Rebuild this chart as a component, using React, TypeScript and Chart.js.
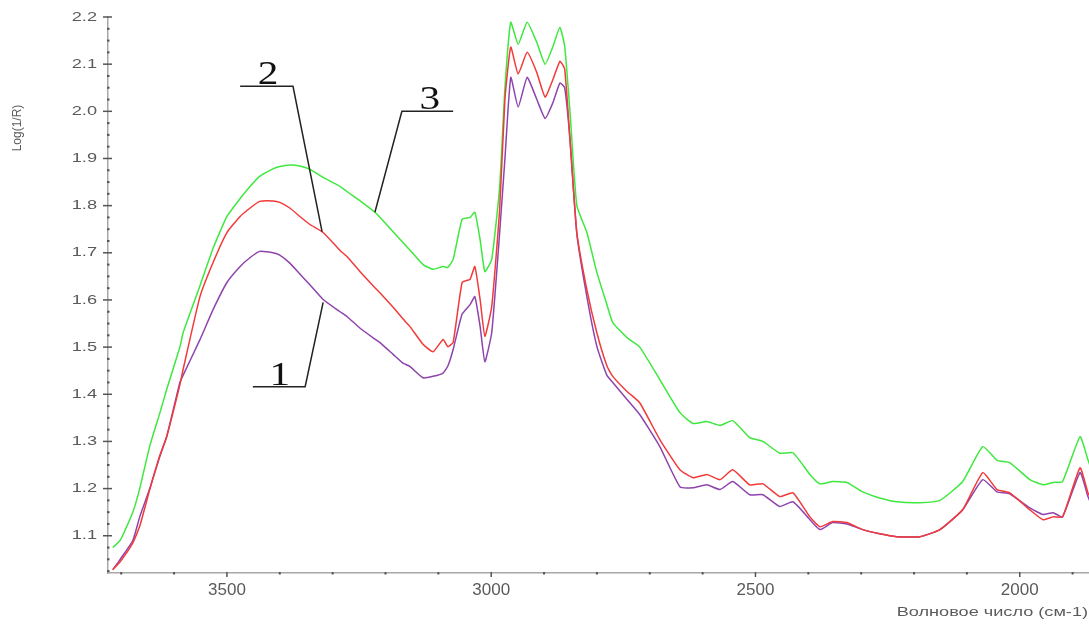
import { useEffect, useRef } from 'react';
import { Chart, registerables } from 'chart.js';

Chart.register(...registerables);

// Wavenumbers (cm-1) sampled along the spectra
const wavenumbers = [
  3716, 3702, 3678, 3665, 3646, 3627, 3614, 3589, 3583, 3551, 3526, 3500, 3475, 3456, 3438, 3413, 3400, 3381,
  3362, 3343, 3318, 3286, 3273, 3248, 3220, 3211, 3186, 3167, 3154, 3129, 3110, 3091, 3082, 3072, 3055, 3040,
  3031, 3021, 3012, 2999, 2984, 2974, 2963, 2949, 2932, 2914, 2898, 2883, 2870, 2861, 2851, 2838, 2819, 2800,
  2781, 2770, 2743, 2719, 2681, 2643, 2618, 2592, 2567, 2543, 2511, 2486, 2454, 2429, 2397, 2378, 2354, 2327,
  2297, 2265, 2233, 2189, 2151, 2108, 2070, 2043, 2019, 1981, 1956, 1937, 1919, 1886, 1871, 1866,
];

// Curve 1 (purple)
const series1 = [
  1.028, 1.05, 1.09, 1.14, 1.2, 1.268, 1.31, 1.425, 1.44, 1.516, 1.58, 1.637, 1.671, 1.69, 1.703, 1.7, 1.695, 1.678,
  1.655, 1.632, 1.601, 1.575, 1.565, 1.54, 1.517, 1.51, 1.485, 1.466, 1.459, 1.435, 1.438, 1.445, 1.46, 1.495, 1.57, 1.59,
  1.607, 1.544, 1.469, 1.531, 1.743, 1.9, 2.072, 2.009, 2.072, 2.026, 1.985, 2.019, 2.06, 2.05, 1.941, 1.74, 1.607, 1.501,
  1.44, 1.425, 1.389, 1.357, 1.289, 1.204, 1.202, 1.208, 1.198, 1.215, 1.187, 1.187, 1.162, 1.172, 1.134, 1.113, 1.128, 1.125,
  1.113, 1.104, 1.098, 1.098, 1.113, 1.155, 1.219, 1.193, 1.189, 1.159, 1.145, 1.149, 1.14, 1.234, 1.183, 1.17,
];

// Curve 2 (red)
const series2 = [
  1.028, 1.045, 1.085, 1.12, 1.198, 1.27, 1.31, 1.42, 1.452, 1.607, 1.68, 1.743, 1.777, 1.795, 1.809, 1.81, 1.807, 1.795,
  1.777, 1.76, 1.743, 1.705, 1.692, 1.66, 1.626, 1.616, 1.585, 1.56, 1.544, 1.506, 1.49, 1.516, 1.501, 1.51, 1.637, 1.644,
  1.671, 1.601, 1.523, 1.586, 1.792, 2.026, 2.136, 2.079, 2.125, 2.083, 2.03, 2.068, 2.106, 2.09, 1.941, 1.743, 1.622, 1.53,
  1.46, 1.438, 1.406, 1.382, 1.304, 1.24, 1.223, 1.23, 1.219, 1.24, 1.208, 1.21, 1.183, 1.191, 1.14, 1.119, 1.13, 1.128,
  1.113, 1.104, 1.098, 1.098, 1.113, 1.155, 1.234, 1.198, 1.191, 1.155, 1.134, 1.14, 1.14, 1.244, 1.191, 1.18,
];

// Curve 3 (green)
const series3 = [
  1.075, 1.09, 1.15, 1.2, 1.29, 1.36, 1.41, 1.5, 1.53, 1.63, 1.71, 1.777, 1.815, 1.841, 1.862, 1.878, 1.883, 1.886,
  1.884, 1.877, 1.86, 1.841, 1.83, 1.81, 1.786, 1.776, 1.745, 1.722, 1.706, 1.675, 1.665, 1.671, 1.669, 1.686, 1.771, 1.775,
  1.786, 1.728, 1.66, 1.686, 1.84, 2.05, 2.189, 2.142, 2.189, 2.147, 2.1, 2.138, 2.178, 2.138, 2.0, 1.8, 1.743, 1.658,
  1.59, 1.552, 1.52, 1.5, 1.431, 1.361, 1.338, 1.342, 1.334, 1.344, 1.308, 1.3, 1.275, 1.276, 1.23, 1.21, 1.215, 1.213,
  1.193, 1.18, 1.172, 1.17, 1.175, 1.215, 1.289, 1.26, 1.255, 1.219, 1.208, 1.213, 1.215, 1.31, 1.261, 1.245,
];

// Axes
const xMin = 1869;
const xMax = 3725;
const yMin = 1.021;
const yMax = 2.2;
const xMajorTicks = [3500, 3000, 2500, 2000];
const xMinorStep = 100;
const yMajorTicks = [1.1, 1.2, 1.3, 1.4, 1.5, 1.6, 1.7, 1.8, 1.9, 2.0, 2.1, 2.2];
const yMinorStep = 0.025;
const xTitle = 'Волновое число (см-1)';
const yTitle = 'Log(1/R)';

// Callout labels: label, label anchor, leader path (data coordinates)
const calloutLabels = ['1', '2', '3'];
const calloutAnchors = [
  [3400, 1.416],
  [3422, 2.053],
  [3116, 2.0],
];
const calloutPaths = [
  [[3451, 1.416], [3352, 1.416], [3318, 1.595]],
  [[3475, 2.053], [3375, 2.053], [3320, 1.745]],
  [[3072, 2.0], [3169, 2.0], [3220, 1.786]],
];

const isMajor = (v: number, majors: number[]) => majors.some((m) => Math.abs(m - v) < 1e-6);

const decorPlugin = {
  id: 'decor',
  afterDraw(chart: any) {
    const { ctx, chartArea, scales } = chart;
    const x = scales.x;
    const y = scales.y;
    ctx.save();

    // y ticks and labels
    y.ticks.forEach((t: any) => {
      const py = y.getPixelForValue(t.value);
      ctx.fillStyle = '#555';
      if (isMajor(t.value, yMajorTicks)) {
        ctx.fillRect(chartArea.left - 5, py - 0.75, 9, 1.5);
        ctx.save();
        ctx.translate(97, py);
        ctx.scale(1.4, 1);
        ctx.font = '13px "Liberation Sans", Arial, sans-serif';
        ctx.fillStyle = '#5a5a5a';
        ctx.textAlign = 'right';
        ctx.textBaseline = 'middle';
        ctx.fillText(t.value.toFixed(1), 0, 0);
        ctx.restore();
      } else {
        ctx.fillRect(chartArea.left - 1, py - 1, 2.5, 2);
      }
    });

    // x ticks and labels
    x.ticks.forEach((t: any) => {
      const px = x.getPixelForValue(t.value);
      ctx.fillStyle = '#555';
      if (isMajor(t.value, xMajorTicks)) {
        ctx.fillRect(px - 0.75, chartArea.bottom - 1, 1.5, 5);
        ctx.font = '17px "Liberation Sans", Arial, sans-serif';
        ctx.fillStyle = '#5a5a5a';
        ctx.textAlign = 'center';
        ctx.textBaseline = 'middle';
        ctx.fillText(String(t.value), px, 590);
      } else {
        ctx.fillRect(px - 1, chartArea.bottom - 1, 2, 2.5);
      }
    });

    // axis titles
    ctx.save();
    ctx.translate(1088, 613);
    ctx.scale(1.45, 1);
    ctx.font = '12.5px "Liberation Sans", Arial, sans-serif';
    ctx.fillStyle = '#5a5a5a';
    ctx.textAlign = 'right';
    ctx.textBaseline = 'middle';
    ctx.fillText(xTitle, 0, 0);
    ctx.restore();

    ctx.save();
    ctx.translate(18, 128);
    ctx.rotate(-Math.PI / 2);
    ctx.font = '12px "Liberation Sans", Arial, sans-serif';
    ctx.fillStyle = '#5a5a5a';
    ctx.textAlign = 'center';
    ctx.textBaseline = 'middle';
    ctx.fillText(yTitle, 0, 0);
    ctx.restore();

    // callouts
    ctx.strokeStyle = '#222';
    ctx.lineWidth = 1.5;
    calloutPaths.forEach((path, i) => {
      ctx.beginPath();
      path.forEach(([vx, vy], j) => {
        const px = x.getPixelForValue(vx);
        const py = y.getPixelForValue(vy);
        if (j === 0) ctx.moveTo(px, py);
        else ctx.lineTo(px, py);
      });
      ctx.stroke();
      const [ax, ay] = calloutAnchors[i];
      ctx.save();
      ctx.translate(x.getPixelForValue(ax), y.getPixelForValue(ay) - 2);
      ctx.scale(1.25, 1);
      ctx.font = '33px "Liberation Serif", "Times New Roman", serif';
      ctx.fillStyle = '#111';
      ctx.textAlign = 'center';
      ctx.textBaseline = 'alphabetic';
      ctx.fillText(calloutLabels[i], 0, 0);
      ctx.restore();
    });

    ctx.restore();
  },
};

export default function App() {
  const ref = useRef<HTMLCanvasElement | null>(null);

  useEffect(() => {
    if (!ref.current) return;
    const mk = (vals: number[]) => wavenumbers.map((w, i) => ({ x: w, y: vals[i] }));
    const chart = new Chart(ref.current, {
      type: 'line',
      data: {
        datasets: [
          { label: '2', data: mk(series2), borderColor: '#f23a3a', borderWidth: 1.5, pointRadius: 0, tension: 0.15 },
          { label: '1', data: mk(series1), borderColor: '#8e44ad', borderWidth: 1.5, pointRadius: 0, tension: 0.15 },
          { label: '3', data: mk(series3), borderColor: '#3ee83e', borderWidth: 1.5, pointRadius: 0, tension: 0.15 },
        ],
      },
      options: {
        animation: false,
        responsive: false,
        devicePixelRatio: 1,
        layout: { padding: { top: 17, right: 0, left: 0, bottom: 0 } },
        plugins: { legend: { display: false }, tooltip: { enabled: false } },
        scales: {
          x: {
            type: 'linear',
            reverse: true,
            min: xMin,
            max: xMax,
            afterBuildTicks: (scale: any) => {
              const ticks = [];
              for (let v = Math.ceil(xMin / xMinorStep) * xMinorStep; v <= xMax; v += xMinorStep) ticks.push({ value: v });
              scale.ticks = ticks;
            },
            afterFit: (scale: any) => {
              scale.height = 51;
            },
            ticks: { display: false },
            grid: { display: false, drawTicks: false },
            border: { display: true, color: '#a8a8a8', width: 1.5 },
          },
          y: {
            type: 'linear',
            min: yMin,
            max: yMax,
            afterBuildTicks: (scale: any) => {
              const ticks = [];
              for (let k = Math.ceil(yMin / yMinorStep); k * yMinorStep <= yMax + 1e-9; k++) {
                ticks.push({ value: Math.round(k * yMinorStep * 1000) / 1000 });
              }
              scale.ticks = ticks;
            },
            afterFit: (scale: any) => {
              scale.width = 108;
            },
            ticks: { display: false },
            grid: { display: false, drawTicks: false },
            border: { display: true, color: '#a8a8a8', width: 1.5 },
          },
        },
      },
      plugins: [decorPlugin],
    });
    return () => chart.destroy();
  }, []);

  return (
    <div style={{ position: 'fixed', left: 0, top: 0, width: 1089, height: 624, background: '#fff' }}>
      <canvas ref={ref} width={1089} height={624} />
    </div>
  );
}
